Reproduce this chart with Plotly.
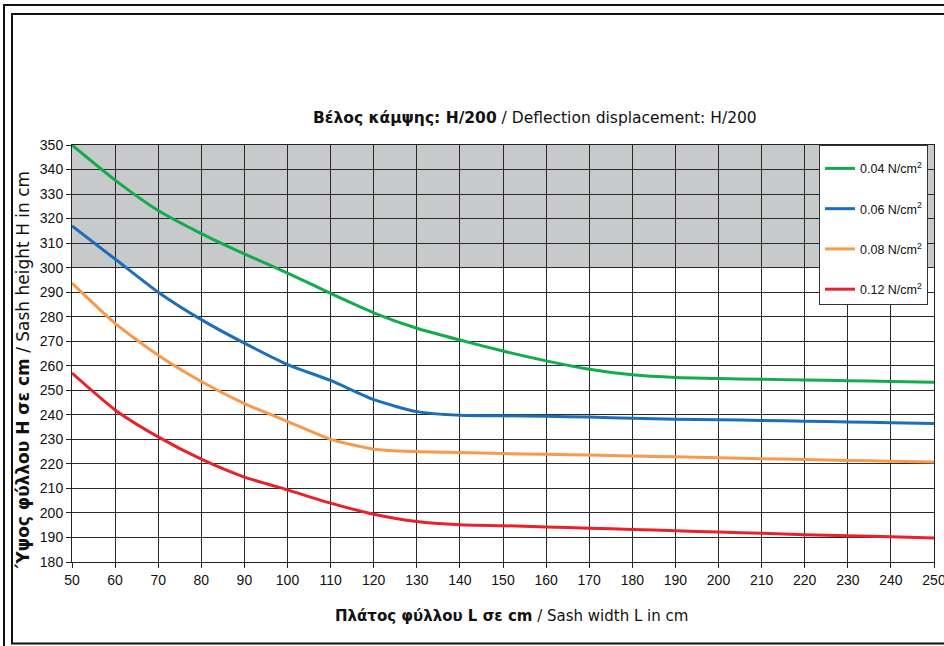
import plotly.graph_objects as go

widths = [50, 60, 70, 80, 90, 100, 110, 120, 130, 140, 150, 160, 170, 180, 190, 200, 210, 220, 230, 240, 250]
h_004 = [350, 335.7, 323.3, 313.9, 305.6, 297.8, 289.5, 281.6, 275.3, 270.5, 266, 262, 258.6, 256.3, 255.2, 254.8, 254.5, 254.2, 253.9, 253.6, 253.3]
h_006 = [317, 303.5, 290, 278.8, 269.2, 260.5, 254, 246.2, 241.3, 239.8, 239.6, 239.4, 239.1, 238.6, 238.2, 238.0, 237.7, 237.4, 237.1, 236.8, 236.5]
h_008 = [293.7, 277.3, 264.3, 253.6, 244.6, 237.3, 230, 226, 225, 224.6, 224.2, 223.9, 223.6, 223.2, 222.9, 222.5, 222.1, 221.8, 221.4, 221.1, 220.8]
h_012 = [257, 242, 231, 221.9, 214.6, 209.4, 204, 199.5, 196.5, 195.2, 194.8, 194.3, 193.8, 193.3, 192.7, 192.2, 191.7, 191.1, 190.7, 190.3, 189.8]
series_names = ["0.04 N/cm<sup>2</sup>", "0.06 N/cm<sup>2</sup>", "0.08 N/cm<sup>2</sup>", "0.12 N/cm<sup>2</sup>"]
series_colors = ["#12ac4c", "#1c6dba", "#f89a4c", "#e8212b"]

title_bold = "Βέλος κάμψης: H/200"
title_reg = " / Deflection displacement: H/200"
xt_bold = "Πλάτος φύλλου L σε cm"
xt_reg = " / Sash width L in cm"
yt_bold = "Ύψος φύλλου H σε cm"
yt_reg = " / Sash height H in cm"

W, H = 944, 646
L, R, T, B = 72, 934, 145, 562


def px_x(p):
    return (p - L) / (R - L)


def px_y(p):
    return (B - p) / (B - T)


fig = go.Figure()
for ys, name, col in zip([h_004, h_006, h_008, h_012], series_names, series_colors):
    fig.add_trace(go.Scatter(
        x=widths, y=ys, name=name, mode="lines",
        line=dict(color=col, width=3, shape="spline", smoothing=0.6),
        legendgroup=name,
    ))

shapes = [
    dict(type="rect", xref="x", yref="y", x0=50, x1=250, y0=300, y1=350,
         fillcolor="#c8c9cb", line=dict(width=0), layer="below"),
    # outer frame
    dict(type="rect", xref="paper", yref="paper",
         x0=px_x(4), x1=px_x(960), y0=px_y(5), y1=px_y(660),
         line=dict(color="#111", width=2), fillcolor="rgba(0,0,0,0)"),
    # inner frame
    dict(type="rect", xref="paper", yref="paper",
         x0=px_x(12), x1=px_x(955), y0=px_y(14), y1=px_y(643.5),
         line=dict(color="#111", width=2), fillcolor="rgba(0,0,0,0)"),
]

title_font = dict(family="DejaVu Sans", size=15.5, color="#111")
xtitle_font = dict(family="DejaVu Sans", size=15, color="#111")
ytitle_font = dict(family="DejaVu Sans", size=17, color="#111")
annotations = [
    dict(text="<b>" + title_bold + "</b>" + title_reg, xref="paper", yref="paper",
         x=px_x(535), y=px_y(118), showarrow=False, font=title_font,
         xanchor="center", yanchor="middle"),
    dict(text="<b>" + xt_bold + "</b>" + xt_reg, xref="paper", yref="paper",
         x=px_x(511), y=px_y(616), showarrow=False, font=xtitle_font,
         xanchor="center", yanchor="middle"),
    dict(text="<b>" + yt_bold + "</b>" + yt_reg, xref="paper", yref="paper",
         x=px_x(23), y=px_y(370), showarrow=False, font=ytitle_font, textangle=-90,
         xanchor="center", yanchor="middle"),
]

axis_common = dict(
    showgrid=True, gridcolor="#2a2a2a", gridwidth=1,
    showline=True, linecolor="#222", linewidth=1, mirror=True,
    ticks="outside", ticklen=5, tickcolor="#222",
    tickfont=dict(family="Liberation Sans, Arial", size=14, color="#111"),
    zeroline=False, dtick=10, automargin=False, ticklabeloverflow="allow",
)

fig.update_layout(
    width=W, height=H,
    margin=dict(l=L, r=W - R, t=T, b=H - B, autoexpand=False),
    paper_bgcolor="white", plot_bgcolor="white",
    xaxis=dict(range=[50, 250], tick0=50, **axis_common),
    yaxis=dict(range=[180, 350], tick0=180, **axis_common),
    shapes=shapes, annotations=annotations,
    showlegend=True,
    legend=dict(
        x=px_x(819), y=px_y(145), xanchor="left", yanchor="top",
        bgcolor="white", bordercolor="#333", borderwidth=1,
        font=dict(family="Liberation Sans, Arial", size=12.5, color="#111"),
        tracegroupgap=21, traceorder="grouped",
        title=dict(text=" ", font=dict(size=6)),
    ),
)

fig.write_html(
    "out.html",
    config={"displayModeBar": False},
    post_script="document.body.style.margin='0';document.body.style.overflow='hidden';",
)
